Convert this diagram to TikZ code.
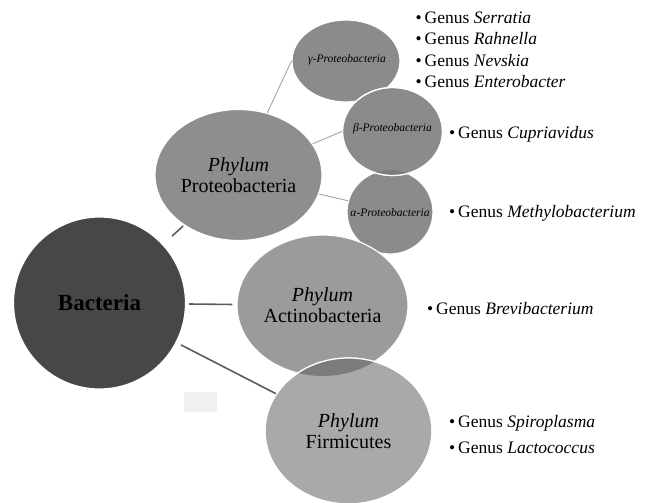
\documentclass[tikz,border=0pt]{standalone}
\usepackage{fontspec}
\setmainfont{Liberation Serif}
\usetikzlibrary{shapes.geometric}

\definecolor{bactgray}{HTML}{474747}
\definecolor{proteogray}{HTML}{8E8E8E}
\definecolor{classgray}{HTML}{8B8B8B}
\definecolor{actinogray}{HTML}{9B9B9B}
\definecolor{firmgray}{HTML}{A9A9A9}
\definecolor{lensgray}{HTML}{7C7C7C}
\definecolor{linkgray}{HTML}{5C5C5C}
\definecolor{sublinkgray}{HTML}{A3A3A3}
\definecolor{patchgray}{HTML}{F1F1F1}

\begin{document}
\begin{tikzpicture}[x=1pt, y=-1pt,
    bubble/.style={ellipse, inner sep=0pt, draw=white, line width=1.2pt, align=center},
    phylum/.style={bubble, font=\fontsize{20}{21}\selectfont},
    classlabel/.style={inner sep=0pt, font=\fontsize{11.5}{13}\selectfont\itshape},
    genus/.style={anchor=base west, inner sep=0pt, font=\fontsize{17.5}{21}\selectfont},
    link/.style={draw=linkgray, line width=1.6pt},
    sublink/.style={draw=sublinkgray, line width=0.9pt}]
          \useasboundingbox (0, 0) rectangle (649, 503);

          % Faint patch left of the Firmicutes bubble
          \fill[patchgray] (184, 392) rectangle (217, 412);

          % Root node
          \node[bubble, fill=bactgray, minimum width=172pt, minimum height=172pt,
                font=\fontsize{23}{24}\selectfont\bfseries] (bact) at (99.5, 303) {Bacteria};

          % Phylum nodes and class nodes
          \node[phylum, fill=proteogray, minimum width=167pt, minimum height=131pt] (proteo) at (238.5, 175) {\textit{Phylum}\\Proteobacteria};
          \node[bubble, fill=classgray, minimum width=108pt, minimum height=82pt] (gamma) at (346, 61) {};
          \node[bubble, fill=classgray, minimum width=86pt, minimum height=84pt] (alpha) at (390, 212) {};
          \node[bubble, fill=classgray, minimum width=100pt, minimum height=88pt] (beta) at (392.5, 131.5) {};
          \node[phylum, fill=actinogray, minimum width=171pt, minimum height=141pt] (actino) at (322.5, 305.5) {\textit{Phylum}\\Actinobacteria};
          \node[phylum, fill=firmgray, minimum width=167pt, minimum height=146pt] (firm) at (348.5, 431) {\textit{Phylum}\\Firmicutes};

          % Darker overlaps
          \begin{scope}
            \clip (alpha.center) ellipse [x radius=43pt, y radius=42pt];
            \fill[lensgray] (beta.center) ellipse [x radius=50pt, y radius=44pt];
          \end{scope}
          \draw[white, line width=1.2pt] (beta.center) ellipse [x radius=50pt, y radius=44pt];
          \begin{scope}
            \clip (actino.center) ellipse [x radius=85.5pt, y radius=70.5pt];
            \fill[lensgray] (firm.center) ellipse [x radius=83.5pt, y radius=73pt];
          \end{scope}
          \draw[white, line width=1.2pt] (firm.center) ellipse [x radius=83.5pt, y radius=73pt];

          % Class labels
          \node[classlabel] (gammaT) at (347, 60) {γ-Proteobacteria};
          \node[classlabel] (betaT) at (392.5, 129) {β-Proteobacteria};
          \node[classlabel] (alphaT) at (390, 213) {α-Proteobacteria};

          % Connectors
          \draw[link, shorten <=12pt, shorten >=1pt] (bact) -- (proteo);
          \draw[link, shorten <=3pt, shorten >=4pt] (bact) -- (actino);
          \draw[link, shorten <=5pt] (bact) -- (firm);
          \draw[sublink] (proteo) -- (gamma.west);
          \draw[sublink] (proteo) -- (beta.west);
          \draw[sublink] (proteo) -- (alpha.165);

          % Genus lists
          \node[genus] (serratia) at (415.5, 24) {•\,Genus \textit{Serratia}};
          \node[genus] (rahnella) at (415.5, 45) {•\,Genus \textit{Rahnella}};
          \node[genus] (nevskia) at (415.5, 67) {•\,Genus \textit{Nevskia}};
          \node[genus] (enterobacter) at (415.5, 88) {•\,Genus \textit{Enterobacter}};
          \node[genus] (cupriavidus) at (449, 139) {•\,Genus \textit{Cupriavidus}};
          \node[genus] (methylo) at (449, 217) {•\,Genus \textit{Methylobacterium}};
          \node[genus] (brevi) at (427, 314) {•\,Genus \textit{Brevibacterium}};
          \node[genus] (spiro) at (449, 427) {•\,Genus \textit{Spiroplasma}};
          \node[genus] (lacto) at (449, 453) {•\,Genus \textit{Lactococcus}};
        \end{tikzpicture}
\end{document}
